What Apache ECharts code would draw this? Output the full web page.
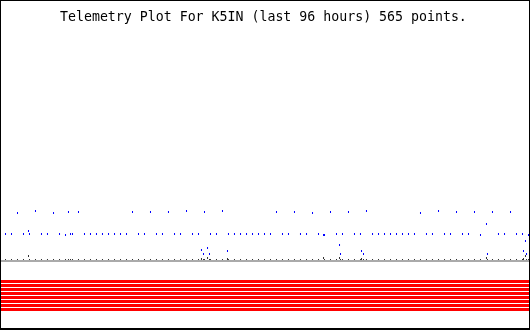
<!DOCTYPE html>
<html>
<head>
<meta charset="utf-8">
<script src="https://cdn.jsdelivr.net/npm/echarts@6/dist/echarts.min.js"></script>
<style>html,body{margin:0;padding:0;background:#fff}#c{width:530px;height:330px}</style>
</head>
<body>
<div id="c"></div>
<script>
var titleText = 'Telemetry Plot For K5IN (last 96 hours) 565 points.';

// sample times (hours since start of the 96 h window)
var hours = [0.82,1.91,3.00,4.09,5.00,5.18,6.27,7.36,8.45,9.55,10.64,11.73,12.27,12.64,13.00,14.09,15.18,16.27,17.36,18.45,
  19.55,20.64,21.73,22.82,23.91,25.00,26.09,27.18,28.27,29.36,30.45,31.55,32.64,33.73,34.82,35.91,36.45,36.82,37.00,37.55,
  37.91,38.09,39.18,40.27,41.18,41.36,42.45,43.55,44.64,45.73,46.82,47.91,49.00,50.09,51.18,52.27,53.36,54.45,55.55,56.64,
  57.73,58.64,58.82,59.91,61.00,61.55,61.73,62.09,63.18,64.27,65.36,65.55,65.91,66.45,67.55,68.64,69.73,70.82,71.91,73.00,
  74.09,75.18,76.27,77.36,78.45,79.55,80.64,81.73,82.82,83.91,85.00,86.09,87.18,88.27,88.45,89.36,90.45,91.55,92.64,93.73,
  94.82,95.00,95.36,95.55,95.91];

// channel 1 (blue)
var ch1 = [27,27,48,27,30,27,50,27,27,48,27,26,49,27,27,49,27,27,27,27,
  27,27,27,27,49,27,27,49,27,27,49,27,27,50,27,27,11,7,49,13,
  7,27,27,50,10,27,27,27,27,27,27,27,27,49,27,27,49,27,27,48,
  27,26,26,49,27,16,7,27,49,27,27,10,7,50,27,27,27,27,27,27,
  27,27,48,27,27,50,27,27,49,27,27,49,26,37,7,49,27,27,49,27,
  27,10,20,7,26];

// channel 2 (dark)
var ch2 = [1,1,1,1,5,1,1,1,1,1,1,1,1,1,1,1,1,1,1,1,
  1,1,1,1,1,1,1,1,1,1,1,1,1,1,1,1,2,1,1,3,
  1,1,1,1,2,1,1,1,1,1,1,1,1,1,1,1,1,1,1,1,
  1,3,1,1,1,3,1,1,1,1,1,2,1,1,1,1,1,1,1,1,
  1,1,1,1,1,1,1,1,1,1,1,1,1,3,1,1,1,1,1,1,
  1,2,5,1,1];

var baseline = 0;
var bandLevels = [-20.5,-24.5,-28.5,-32.5,-36.5,-40.5,-44.5,-48.5];
var xRange = [0, 96];

var chart = echarts.init(document.getElementById('c'), null, {renderer: 'canvas'});

function pairs(vals) {
  return hours.map(function (h, i) { return [h, vals[i]]; });
}

var series = [];
bandLevels.forEach(function (lv) {
  series.push({
    type: 'line', data: [[xRange[0], lv], [xRange[1], lv]], symbol: 'none', silent: true,
    lineStyle: {color: '#ff0000', width: 3, opacity: 1}, z: 1, animation: false
  });
});
series.push({
  type: 'scatter', data: pairs(ch2), symbol: 'rect', symbolSize: [1, 2],
  itemStyle: {color: '#333333', opacity: 1}, z: 2, silent: true, animation: false
});
series.push({
  type: 'line', data: [[xRange[0], baseline], [xRange[1], baseline]], symbol: 'none', silent: true,
  lineStyle: {color: '#aaaaaa', width: 2, opacity: 1}, z: 3, animation: false
});
series.push({
  type: 'scatter', data: pairs(ch1), symbol: 'rect', symbolSize: [1, 2],
  itemStyle: {color: '#0000ff', opacity: 1}, z: 4, silent: true, animation: false
});

chart.setOption({
  animation: false,
  backgroundColor: '#ffffff',
  title: {
    text: titleText, left: 60, top: 11, padding: 0,
    textStyle: {fontFamily: 'DejaVu Sans Mono', fontSize: 13.25, fontWeight: 'normal', color: '#000000'}
  },
  grid: {left: 1, width: 528, top: 0, height: 330},
  xAxis: {type: 'value', min: xRange[0], max: xRange[1], show: false, splitLine: {show: false}},
  yAxis: {type: 'value', min: -69, max: 261, show: false, splitLine: {show: false}},
  graphic: [
    {type: 'rect', shape: {x: 0, y: 0, width: 1, height: 330}, style: {fill: '#000'}, z: 100},
    {type: 'rect', shape: {x: 0, y: 0, width: 530, height: 1}, style: {fill: '#000'}, z: 100},
    {type: 'rect', shape: {x: 529, y: 0, width: 1, height: 330}, style: {fill: '#000'}, z: 100},
    {type: 'rect', shape: {x: 0, y: 328, width: 530, height: 2}, style: {fill: '#000'}, z: 100}
  ],
  series: series
});
</script>
</body>
</html>
